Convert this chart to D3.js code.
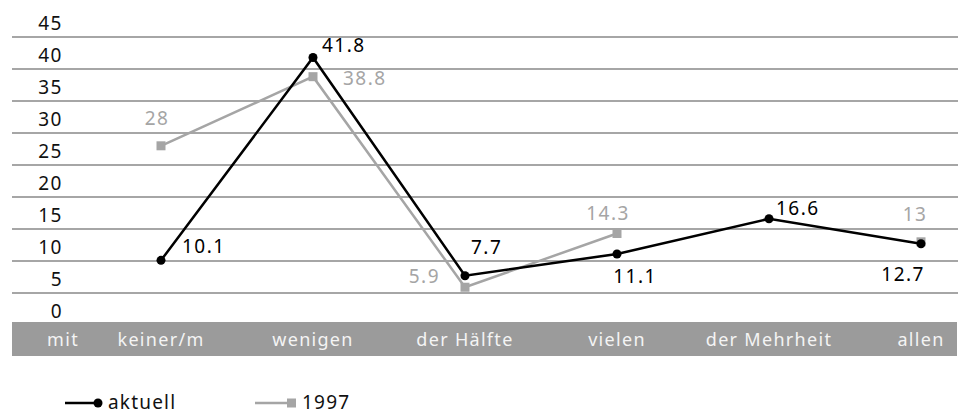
<!DOCTYPE html>
<html>
<head>
<meta charset="utf-8">
<script src="https://cdn.jsdelivr.net/npm/d3@7"></script>
<style>
  html, body { margin: 0; padding: 0; background: #fff; }
  svg { display: block; font-family: "Noto Sans", sans-serif; }
</style>
</head>
<body>
<div id="chart"></div>
<script>
// Categories (x axis) and the axis caption shown in the grey band
const categories = ["keiner/m", "wenigen", "der Hälfte", "vielen", "der Mehrheit", "allen"];
const axisCaption = "mit";

// Series values (null = no value)
const aktuell = [10.1, 41.8, 7.7, 11.1, 16.6, 12.7];
const y1997 = [28, 38.8, 5.9, 14.3, null, 13];

// Y ticks
const yTicks = [0, 5, 10, 15, 20, 25, 30, 35, 40, 45];

// Legend labels
const seriesNames = ["aktuell", "1997"];

// Data label offsets relative to each point [dx, dy, anchor]
const labelsAktuell = [[21, -7, "start"], [9, -5, "start"], [6, -22, "start"], [18, 29, "middle"], [7, -4, "start"], [4, 37, "end"]];
const labels1997 = [[-4, -21, "middle"], [30, 8, "start"], [-25, -4, "end"], [-9, -13, "middle"], null, [-6, -21, "middle"]];

const width = 961;
const height = 414;
const gridLeft = 12;
const gridRight = 958;
const black = "#000";
const grey = "#a5a5a5";

const x = d3.scalePoint().domain(categories).range([161, 921]);
const y = d3.scaleLinear().domain([0, 45]).range([325, 37]);

const svg = d3.select("#chart")
  .append("svg")
  .attr("width", width)
  .attr("height", height)
  .attr("viewBox", [0, 0, width, height]);

// Gridlines
svg.append("g")
  .selectAll("line")
  .data(yTicks.filter((d) => d > 0))
  .join("line")
  .attr("x1", gridLeft)
  .attr("x2", gridRight)
  .attr("y1", (d) => y(d))
  .attr("y2", (d) => y(d))
  .attr("stroke", "#a6a6a6")
  .attr("stroke-width", 2);

// Y tick labels, sitting just above their line
svg.append("g")
  .selectAll("text")
  .data(yTicks)
  .join("text")
  .attr("x", 63)
  .attr("y", (d) => y(d) - 7)
  .attr("text-anchor", "end")
  .style("font-size", "19px")
  .style("letter-spacing", "1.5px")
  .attr("fill", "#111")
  .text((d) => d);

// Category band
const bandTop = y(0) - 3;
svg.append("rect")
  .attr("x", gridLeft)
  .attr("y", bandTop)
  .attr("width", gridRight - gridLeft - 1)
  .attr("height", 34)
  .attr("fill", "#9b9b9b");

svg.append("text")
  .attr("x", 63)
  .attr("y", bandTop + 24)
  .attr("text-anchor", "middle")
  .style("font-size", "18px")
  .style("letter-spacing", "1.3px")
  .attr("fill", "#f4f4f4")
  .text(axisCaption);

svg.append("g")
  .selectAll("text")
  .data(categories)
  .join("text")
  .attr("x", (d) => x(d))
  .attr("y", bandTop + 24)
  .attr("text-anchor", "middle")
  .style("font-size", "18px")
  .style("letter-spacing", "1.3px")
  .attr("fill", "#f4f4f4")
  .text((d) => d);

// Lines
const line = d3.line()
  .defined((d) => d.v !== null)
  .x((d) => x(d.c))
  .y((d) => y(d.v));

const pts1997 = categories.map((c, i) => ({ c, v: y1997[i], lab: labels1997[i] }));
const ptsAkt = categories.map((c, i) => ({ c, v: aktuell[i], lab: labelsAktuell[i] }));

svg.append("path")
  .datum(pts1997)
  .attr("d", line)
  .attr("fill", "none")
  .attr("stroke", grey)
  .attr("stroke-width", 2.5);

svg.append("g")
  .selectAll("rect")
  .data(pts1997.filter((d) => d.v !== null))
  .join("rect")
  .attr("x", (d) => x(d.c) - 4.5)
  .attr("y", (d) => y(d.v) - 4.5)
  .attr("width", 9)
  .attr("height", 9)
  .attr("fill", grey);

svg.append("path")
  .datum(ptsAkt)
  .attr("d", line)
  .attr("fill", "none")
  .attr("stroke", black)
  .attr("stroke-width", 2.5);

svg.append("g")
  .selectAll("circle")
  .data(ptsAkt)
  .join("circle")
  .attr("cx", (d) => x(d.c))
  .attr("cy", (d) => y(d.v))
  .attr("r", 4.5)
  .attr("fill", black);

// Data labels
function drawLabels(pts, color) {
  svg.append("g")
    .selectAll("text")
    .data(pts.filter((d) => d.v !== null && d.lab))
    .join("text")
    .attr("x", (d) => x(d.c) + d.lab[0])
    .attr("y", (d) => y(d.v) + d.lab[1])
    .attr("text-anchor", (d) => d.lab[2])
    .style("font-size", "19px")
    .style("letter-spacing", "1.5px")
    .attr("fill", color)
    .text((d) => d.v);
}
drawLabels(pts1997, grey);
drawLabels(ptsAkt, black);

// Legend
const legendY = 403;
const legend = svg.append("g");

legend.append("line")
  .attr("x1", 65).attr("x2", 98)
  .attr("y1", legendY).attr("y2", legendY)
  .attr("stroke", black).attr("stroke-width", 2.5);
legend.append("circle")
  .attr("cx", 98).attr("cy", legendY).attr("r", 4.5)
  .attr("fill", black);
legend.append("text")
  .attr("x", 108).attr("y", legendY + 6)
  .style("font-size", "19px")
  .style("letter-spacing", "1.2px")
  .attr("fill", "#111")
  .text(seriesNames[0]);

legend.append("line")
  .attr("x1", 255).attr("x2", 288)
  .attr("y1", legendY).attr("y2", legendY)
  .attr("stroke", grey).attr("stroke-width", 2.5);
legend.append("rect")
  .attr("x", 287).attr("y", legendY - 4.5)
  .attr("width", 9).attr("height", 9)
  .attr("fill", grey);
legend.append("text")
  .attr("x", 302).attr("y", legendY + 6)
  .style("font-size", "19px")
  .style("letter-spacing", "1.2px")
  .attr("fill", "#111")
  .text(seriesNames[1]);
</script>
</body>
</html>
